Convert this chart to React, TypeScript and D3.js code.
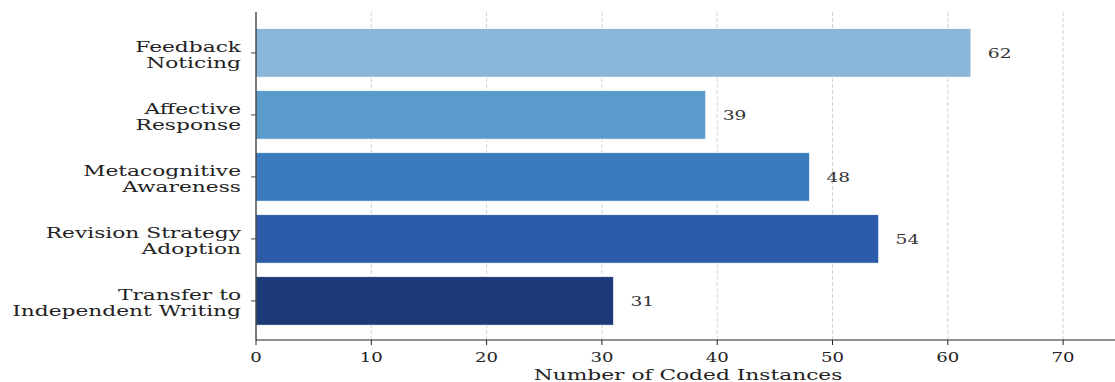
import React from "react";
import * as d3 from "d3";

const categories: string[][] = [
  ["Feedback", "Noticing"],
  ["Affective", "Response"],
  ["Metacognitive", "Awareness"],
  ["Revision Strategy", "Adoption"],
  ["Transfer to", "Independent Writing"],
];
const values: number[] = [62, 39, 48, 54, 31];
const colors: string[] = ["#89B6D9", "#5A9BCB", "#3B7BBD", "#2C5BA9", "#1D3A78"];
const xTicks: number[] = [0, 10, 20, 30, 40, 50, 60, 70];
const xLabel = "Number of Coded Instances";

const W = 1115;
const H = 382;
const FONT = "'DejaVu Serif', serif";

export default function App() {
  const x = d3.scaleLinear().domain([0, 74.5]).range([256, 1115]);
  const y = d3.scaleLinear().domain([-0.66, 4.63]).range([12, 340]);
  const barH = y(0.39) - y(-0.39);
  const axisY = 340;

  return (
    <svg width={W} height={H} style={{ position: "absolute", left: 0, top: 0, background: "#fff" }}>
      {xTicks.filter((t) => t > 0).map((t) => (
        <line key={"g" + t} x1={x(t)} x2={x(t)} y1={12} y2={axisY} stroke="#d3d3d3" strokeWidth={1} strokeDasharray="4,2" />
      ))}
      {values.map((v, i) => (
        <rect key={"b" + i} x={x(0)} y={y(i) - barH / 2} width={x(v) - x(0)} height={barH} fill={colors[i]} stroke="#ffffff" strokeWidth={0.6} />
      ))}
      {values.map((v, i) => (
        <text key={"v" + i} transform={`translate(${x(v + 2.5)},${y(i) + 4.7}) scale(1.36,1)`} textAnchor="middle" fontFamily={FONT} fontSize={13.7} fill="#333">
          {v}
        </text>
      ))}
      <line x1={x(0)} x2={x(0)} y1={12} y2={axisY} stroke="#222" strokeWidth={1.2} />
      <line x1={x(0)} x2={W} y1={axisY} y2={axisY} stroke="#222" strokeWidth={1.2} />
      {categories.map((lines, i) => (
        <g key={"c" + i}>
          <line x1={x(0) - 5} x2={x(0)} y1={y(i)} y2={y(i)} stroke="#444" strokeWidth={1} />
          {lines.map((ln, j) => (
            <text key={j} transform={`translate(${241},${y(i) - 0.7 + j * 15.8}) scale(1.5,1)`} textAnchor="end" fontFamily={FONT} fontSize={14.5} fill="#222">
              {ln}
            </text>
          ))}
        </g>
      ))}
      {xTicks.map((t) => (
        <g key={"t" + t}>
          <line x1={x(t)} x2={x(t)} y1={axisY} y2={axisY + 5} stroke="#222" strokeWidth={1} />
          <text transform={`translate(${x(t)},${362}) scale(1.32,1)`} textAnchor="middle" fontFamily={FONT} fontSize={13.7} fill="#222">
            {t}
          </text>
        </g>
      ))}
      <text transform={`translate(${688},${380}) scale(1.5,1)`} textAnchor="middle" fontFamily={FONT} fontSize={14.5} fill="#222">
        {xLabel}
      </text>
    </svg>
  );
}
